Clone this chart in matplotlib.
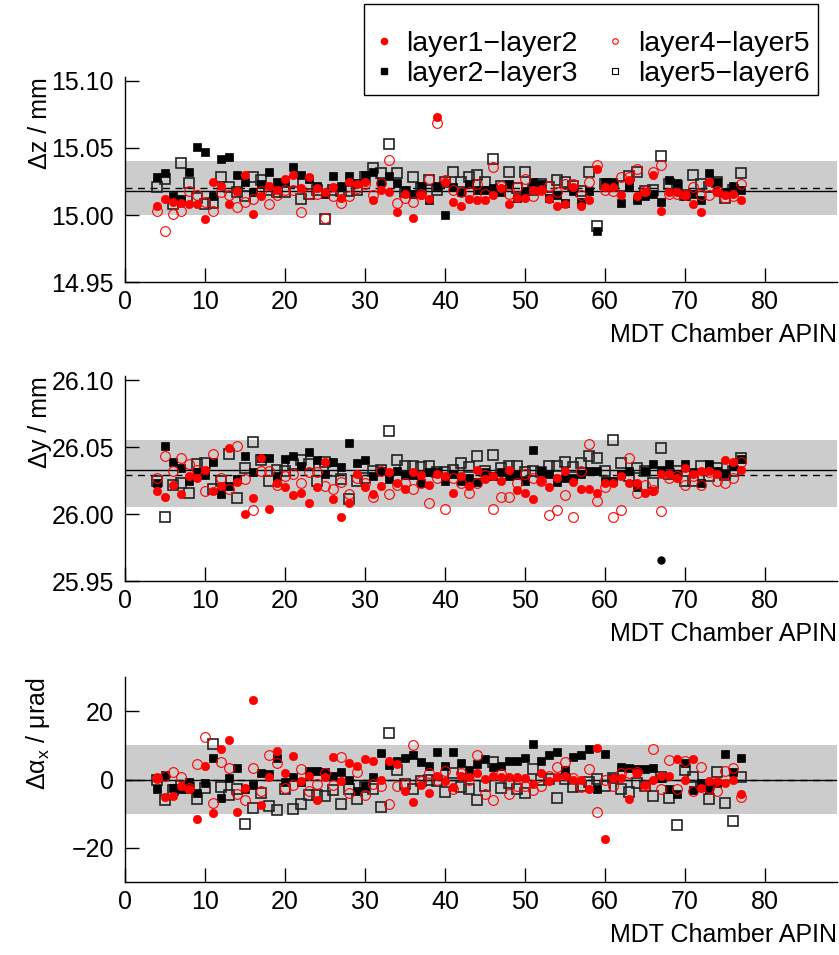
import numpy as np
import matplotlib
matplotlib.use("Agg")
import matplotlib.pyplot as plt
from matplotlib.lines import Line2D

plt.rcParams["font.family"] = ["Liberation Sans", "DejaVu Sans"]
plt.rcParams["mathtext.fontset"] = "custom"
plt.rcParams["mathtext.rm"] = "Liberation Sans"
plt.rcParams["axes.unicode_minus"] = True

# MDT chamber index (APIN) 4..77
chambers = np.arange(4, 78)

# ---- panel 1: delta z (mm) ----
dz_12 = [15.007, 15.012, 15.010, 15.009, 15.008, 15.008, 14.997, 15.025, 15.022, 15.008,
         15.018, 15.030, 15.001, 15.014, 15.022, 15.019, 15.027, 15.030, 15.020, 15.028,
         15.020, 15.017, 15.021, 15.013, 15.025, 15.023, 15.025, 15.011, 15.019, 15.017,
         15.002, 15.016, 14.998, 15.015, 15.012, 15.073, 15.025, 15.010, 15.007, 15.012,
         15.011, 15.011, 15.015, 15.020, 15.008, 15.013, 15.013, 15.019, 15.019, 15.012,
         15.007, 15.008, 15.021, 15.007, 15.011, 15.034, 15.021, 15.021, 15.015, 15.026,
         15.014, 15.017, 15.030, 15.003, 15.017, 15.017, 15.015, 15.008, 15.002, 15.025,
         15.017, 15.015, 15.016, 15.011]
dz_23 = [15.028, 15.031, 15.014, 15.012, 15.032, 15.051, 15.047, 15.014, 15.042, 15.043,
         15.030, 15.025, 15.017, 15.023, 15.032, 15.025, 15.025, 15.036, 15.030, 15.027,
         15.022, 15.016, 15.029, 15.022, 15.029, 15.024, 15.030, 15.032, 15.025, 15.029,
         15.024, 15.019, 15.016, 15.022, 15.011, 15.022, 15.000, 15.021, 15.017, 15.023,
         15.019, 15.019, 15.020, 15.017, 15.023, 15.013, 15.018, 15.025, 15.023, 15.013,
         15.015, 15.009, 15.018, 15.010, 15.018, 14.988, 15.025, 15.025, 15.009, 15.022,
         15.011, 15.014, 15.016, 15.010, 15.026, 15.024, 15.014, 15.016, 15.011, 15.031,
         15.025, 15.017, 15.022, 15.019]
dz_45 = [15.003, 14.988, 15.001, 15.003, 15.018, 15.015, 15.010, 15.003, 15.017, 15.015,
         15.006, 15.010, 15.012, 15.018, 15.008, 15.015, 15.019, 15.019, 15.002, 15.016,
         15.016, 14.998, 15.014, 15.009, 15.014, 15.020, 15.023, 15.015, 15.024, 15.041,
         15.009, 15.013, 15.010, 15.016, 15.027, 15.069, 15.026, 15.019, 15.017, 15.017,
         15.023, 15.016, 15.036, 15.022, 15.016, 15.021, 15.027, 15.014, 15.019, 15.022,
         15.017, 15.023, 15.023, 15.015, 15.025, 15.037, 15.019, 15.018, 15.028, 15.028,
         15.034, 15.018, 15.032, 15.037, 15.016, 15.016, 15.015, 15.021, 15.015, 15.015,
         15.018, 15.013, 15.014, 15.023]
dz_56 = [15.021, 15.027, 15.008, 15.039, 15.024, 15.013, 15.008, 15.009, 15.028, 15.021,
         15.017, 15.014, 15.028, 15.026, 15.019, 15.017, 15.017, 15.025, 15.012, 15.016,
         15.019, 14.997, 15.019, 15.018, 15.018, 15.019, 15.028, 15.035, 15.031, 15.053,
         15.031, 15.017, 15.028, 15.020, 15.026, 15.019, 15.025, 15.032, 15.025, 15.028,
         15.030, 15.025, 15.042, 15.022, 15.032, 15.020, 15.032, 15.019, 15.023, 15.021,
         15.026, 15.025, 15.022, 15.018, 15.032, 14.992, 15.023, 15.022, 15.022, 15.029,
         15.032, 15.018, 15.019, 15.044, 15.023, 15.022, 15.015, 15.030, 15.023, 15.021,
         15.025, 15.013, 15.019, 15.031]

# ---- panel 2: delta y (mm) ----
dy_12 = [26.017, 26.013, 26.022, 26.015, 26.028, 26.027, 26.033, 26.017, 26.021, 26.049,
         26.024, 26.000, 26.012, 26.042, 26.004, 26.023, 26.020, 26.014, 26.016, 26.008,
         26.020, 26.039, 26.011, 25.998, 26.008, 26.030, 26.020, 26.015, 26.021, 26.031,
         26.023, 26.019, 26.031, 26.029, 26.022, 26.030, 26.028, 26.016, 26.028, 26.021,
         26.033, 26.026, 26.028, 26.025, 26.033, 26.018, 26.016, 26.011, 26.025, 26.020,
         26.027, 26.032, 26.024, 26.019, 26.019, 26.016, 26.023, 26.023, 26.028, 26.023,
         26.023, 26.016, 26.017, 26.030, 26.030, 26.027, 26.034, 26.030, 26.032, 26.032,
         26.030, 26.040, 26.039, 26.033]
dy_23 = [26.023, 26.051, 26.039, 26.034, 26.025, 26.031, 26.029, 26.039, 26.015, 26.021,
         26.026, 26.043, 26.031, 26.042, 26.042, 26.028, 26.041, 26.043, 26.036, 26.046,
         26.040, 26.030, 26.039, 26.035, 26.053, 26.038, 26.040, 26.028, 26.032, 26.026,
         26.032, 26.029, 26.029, 26.023, 26.031, 26.031, 26.025, 26.030, 26.025, 26.027,
         26.024, 26.031, 26.028, 26.031, 26.028, 26.029, 26.025, 26.048, 26.032, 26.030,
         26.024, 26.027, 26.027, 26.030, 26.032, 26.032, 26.025, 26.025, 26.030, 26.032,
         26.020, 26.032, 26.037, 26.033, 26.037, 26.029, 26.037, 26.031, 26.023, 26.037,
         26.032, 26.030, 26.036, 26.041]
dy_45 = [26.027, 26.043, 26.032, 26.042, 26.037, 26.033, 26.017, 26.045, 26.027, 26.019,
         26.051, 26.026, 26.003, 26.032, 26.032, 26.022, 26.028, 26.030, 26.023, 26.031,
         26.031, 26.021, 26.019, 26.024, 26.015, 26.027, 26.023, 26.013, 26.032, 26.015,
         26.022, 26.023, 26.019, 26.023, 26.008, 26.027, 26.004, 26.027, 26.023, 26.016,
         26.023, 26.029, 26.004, 26.013, 26.013, 26.023, 26.030, 26.027, 26.025, 25.999,
         26.003, 26.014, 25.998, 26.032, 26.052, 26.010, 26.020, 25.998, 26.003, 26.042,
         26.016, 26.022, 26.018, 26.002, 26.027, 26.028, 26.022, 26.028, 26.022, 26.031,
         26.025, 26.023, 26.027, 26.039]
dy_56 = [26.025, 25.998, 26.022, 26.023, 26.016, 26.037, 26.038, 26.019, 26.025, 26.045,
         26.012, 26.034, 26.054, 26.040, 26.025, 26.033, 26.032, 26.037, 26.040, 26.037,
         26.025, 26.039, 26.032, 26.026, 26.011, 26.025, 26.027, 26.032, 26.033, 26.062,
         26.040, 26.036, 26.036, 26.035, 26.036, 26.031, 26.031, 26.033, 26.038, 26.035,
         26.043, 26.032, 26.044, 26.034, 26.036, 26.036, 26.031, 26.032, 26.031, 26.036,
         26.036, 26.039, 26.035, 26.038, 26.043, 26.042, 26.032, 26.055, 26.038, 26.028,
         26.034, 26.032, 26.023, 26.049, 26.030, 26.032, 26.025, 26.025, 26.036, 26.028,
         26.034, 26.029, 26.032, 26.042]
# single black point below the band in the delta y panel
dy_extra_x = [67]
dy_extra = [25.966]

# ---- panel 3: delta alpha_x (urad) ----
dax_12 = [0.4, -5.1, -4.9, -1.8, -2.7, -11.6, 3.9, -9.8, 9.0, 11.5,
          -9.4, -2.5, 23.3, -7.6, 0.8, 8.2, 2.0, 7.0, -0.5, 1.0,
          -5.9, 0.8, 6.7, -0.4, 4.7, 4.1, 6.1, 5.4, 0.0, 5.3,
          4.4, -3.4, -6.6, -1.6, -3.9, 1.0, -0.5, -2.2, 1.0, 0.8,
          2.0, 0.2, 1.0, 0.8, 0.6, 0.6, 0.4, -1.4, 1.8, -0.5,
          0.8, 1.0, 0.0, 0.0, -2.9, 9.3, -17.5, 0.5, 0.5, -5.7,
          1.8, -1.5, -0.2, 1.0, 1.0, 6.1, -0.2, 6.1, -2.5, -0.5,
          -0.5, -1.0, 0.0, -4.1]
dax_23 = [-2.7, 1.3, -2.5, -2.7, -0.6, -3.9, -1.0, 6.3, -5.5, 0.4,
          3.3, -2.9, -1.6, 1.8, 1.6, 6.3, -0.6, 0.8, -0.6, 2.4,
          2.5, 2.2, 1.0, 2.2, 0.0, -3.4, -1.8, 0.8, 7.8, 4.3,
          5.3, 6.4, 7.3, 5.1, 3.9, 8.0, 4.1, 8.0, 4.9, 2.9,
          4.5, 5.9, 3.7, 3.9, 5.5, 5.5, 6.3, 10.3, 5.5, 7.3,
          8.0, 2.7, 6.7, 7.3, 8.8, -2.7, 7.6, 0.4, 3.7, 3.3,
          3.1, 3.1, 3.5, 0.5, -2.9, -4.3, 4.9, -3.1, -1.0, -2.9,
          -1.0, 7.6, 2.2, 6.3]
dax_45 = [0.4, 1.0, 2.2, 0.6, -2.5, 4.5, 12.4, -6.9, 5.2, 3.3,
          -4.3, -5.9, 3.3, -3.4, 7.3, 4.7, -2.5, -1.5, 3.1, -3.4,
          -1.2, 2.0, -1.6, 6.7, -3.9, 2.3, -4.5, -1.2, -2.0, -7.1,
          -1.8, -1.2, 10.0, -0.5, 1.8, 0.0, 2.4, -2.7, 1.8, 0.0,
          7.3, -4.1, -6.1, 1.6, -4.3, -1.8, -2.0, -3.1, -2.0, 1.0,
          3.7, 5.1, 0.5, -2.2, 3.1, -9.6, 0.0, -2.0, 1.8, 2.0,
          2.2, -2.0, 8.8, -2.7, 5.6, -2.9, 5.5, -3.3, 3.7, -2.5,
          -3.3, 2.5, 3.4, -5.1]
dax_56 = [0.0, -6.1, -3.0, -2.0, -2.5, -5.7, -2.5, 10.4, -2.2, -4.5,
          -2.7, -12.9, -8.4, -3.9, -7.8, -8.8, -2.7, -8.6, -7.1, -4.5,
          -4.5, -4.9, -3.1, -7.3, -2.7, -5.8, -2.2, -2.9, -8.0, 13.5,
          2.7, -1.4, -2.9, -0.4, -0.2, -0.5, -3.7, 1.8, -2.2, -2.9,
          -6.1, -1.8, 5.1, -2.5, -1.0, -2.7, -3.9, 3.1, 0.0, 0.2,
          -5.5, 0.1, -2.2, -1.8, -0.6, 0.2, -1.8, 0.4, -2.9, -3.7,
          -1.0, -1.8, -4.7, 0.8, -5.5, -13.3, 2.9, 0.8, -1.8, -5.7,
          2.2, -6.9, -12.2, 0.8]

# band limits and reference lines per panel
bands = [(15.000, 15.040), (26.005, 26.055), (-10.0, 10.0)]
solid_lines = [15.018, 26.033, 0.0]
dashed_lines = [15.020, 26.029, 0.0]
ylims = [(14.95, 15.103), (25.95, 26.103), (-30.0, 30.0)]
yticks = [[14.95, 15.00, 15.05, 15.10], [25.95, 26.00, 26.05, 26.10], [-20, 0, 20]]
yfmt = ["{:.2f}", "{:.2f}", "{:.0f}"]
ylabels = ["Δz / mm", "Δy / mm", r"Δα$_{\mathregular{x}}$ / μrad"]
series = [(dz_12, dz_23, dz_45, dz_56),
          (dy_12, dy_23, dy_45, dy_56),
          (dax_12, dax_23, dax_45, dax_56)]

FS = 18
fig = plt.figure(figsize=(8.39, 9.55), dpi=100)
bottoms = [0.7047, 0.3916, 0.0764]
for i, b in enumerate(bottoms):
    ax = fig.add_axes([0.149, b, 0.8486, 0.2147])
    s12, s23, s45, s56 = series[i]
    ax.axhspan(*bands[i], color="#cccccc", lw=0, zorder=0)
    ax.axhline(solid_lines[i], color="black", lw=1.0, zorder=1)
    ax.axhline(dashed_lines[i], color="black", lw=1.0, ls=(0, (5, 4)), zorder=1)

    ax.plot(chambers, s56, ls="none", marker="s", ms=6.5, mfc="none",
            mec="#222222", mew=1.2, zorder=2)
    ax.plot(chambers, s23, ls="none", marker="s", ms=6.0, mfc="black",
            mec="black", mew=0.5, zorder=3)
    ax.plot(chambers, s12, ls="none", marker="o", ms=6.0, mfc="red",
            mec="red", mew=0.5, zorder=4)
    ax.plot(chambers, s45, ls="none", marker="o", ms=7.0, mfc="none",
            mec="red", mew=0.8, zorder=5)
    if i == 1:
        ax.plot(dy_extra_x, dy_extra, ls="none", marker="o", ms=5.0,
                mfc="black", mec="black", zorder=5)

    ax.set_xlim(0, 89)
    ax.set_ylim(*ylims[i])
    ax.set_xticks(np.arange(0, 81, 10))
    ax.set_yticks(yticks[i])
    ax.set_yticklabels([yfmt[i].format(v).replace("-", "\u2212") for v in yticks[i]])
    ax.tick_params(direction="in", length=10, width=1.0, labelsize=FS, pad=6)
    ax.tick_params(axis="y", pad=8)
    for side in ("top", "right"):
        ax.spines[side].set_visible(False)
    for side in ("left", "bottom"):
        ax.spines[side].set_linewidth(1.0)

    ax.set_ylabel(ylabels[i], fontsize=FS, loc="top")
    ax.yaxis.set_label_coords(-0.102, 1.0)
    ax.set_xlabel("MDT Chamber APIN", fontsize=FS, loc="right")
    ax.xaxis.set_label_coords(1.0, -0.2)

handles = [
    Line2D([], [], ls="none", marker="o", ms=4.5, mfc="red", mec="red"),
    Line2D([], [], ls="none", marker="s", ms=4.5, mfc="black", mec="black"),
    Line2D([], [], ls="none", marker="o", ms=4.0, mfc="none", mec="red", mew=0.8),
    Line2D([], [], ls="none", marker="s", ms=4.5, mfc="none", mec="black", mew=0.8),
]
labels = ["layer1\u2212layer2", "layer2\u2212layer3", "layer4\u2212layer5", "layer5\u2212layer6"]
leg = fig.legend(handles, labels, loc="upper right", bbox_to_anchor=(0.975, 0.996),
                 borderaxespad=0.0,
                 ncol=2, fontsize=20.5, frameon=True, fancybox=False, framealpha=1.0,
                 edgecolor="black", handlelength=0.8, handletextpad=0.4,
                 columnspacing=0.9, borderpad=0.3, labelspacing=0.15,
                 title=" ", title_fontsize=10)
leg.get_frame().set_linewidth(1.0)

fig.savefig("out.png", dpi=100)
